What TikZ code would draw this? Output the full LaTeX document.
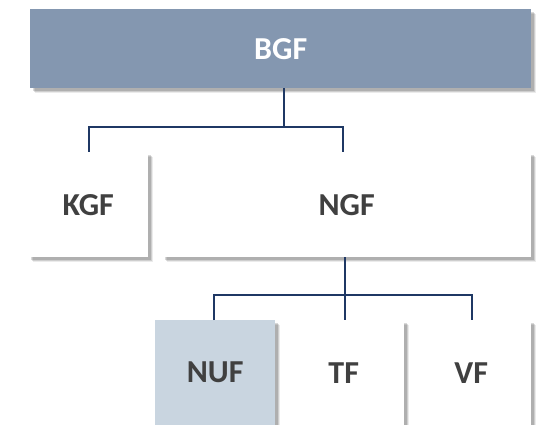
\documentclass[tikz,border=0pt]{standalone}
\usepackage{fontspec}
\setmainfont{Carlito}
\usetikzlibrary{shadows}
\definecolor{headblue}{HTML}{8497B0}
\definecolor{paleblue}{HTML}{C9D5E0}
\definecolor{linkblue}{HTML}{1F3864}
\definecolor{txtgray}{HTML}{404040}
\begin{document}
\begin{tikzpicture}[x=1pt,y=1pt,
  box/.style={fill=white,anchor=north west,inner sep=0pt,text=txtgray,
    font=\fontsize{32}{38}\selectfont\bfseries,
    drop shadow={shadow xshift=5pt,shadow yshift=-5pt,fill=black,opacity=.08},
    drop shadow={shadow xshift=4pt,shadow yshift=-4pt,fill=black,opacity=.12},
    drop shadow={shadow xshift=2.5pt,shadow yshift=-2.5pt,fill=black,opacity=.15}},
  link/.style={draw=linkblue,line width=2.3pt}]
\useasboundingbox (0,0) rectangle (538,-425);
\clip (0,0) rectangle (538,-425);
% top level
\node[box,fill=headblue,text=white,minimum width=501,minimum height=79] (BGF) at (30,-9) {BGF};
% second level
\node[box,minimum width=120,minimum height=105] (KGF) at (28,-152) {KGF};
\node[box,minimum width=369,minimum height=105] (NGF) at (162,-152) {NGF};
% third level
\node[box,fill=paleblue,minimum width=120,minimum height=105] (NUF) at (155,-320) {NUF};
\node[box,minimum width=121,minimum height=105] (TF) at (283,-320) {TF};
\node[box,minimum width=120,minimum height=105] (VF) at (411,-320) {VF};
% junctions
\coordinate (j1) at (284,-127);
\coordinate (j2) at (345,-295);
\draw[link] (BGF.south -| j1) -- (j1)
            ([xshift=1pt]KGF.north) |- (j1) -| ([xshift=-3.5pt]NGF.north);
\draw[link] (NGF.south -| j2) -- (TF.north -| j2)
            ([xshift=-1pt]NUF.north) |- (j2) -| ([xshift=1pt]VF.north);
\end{tikzpicture}
\end{document}
